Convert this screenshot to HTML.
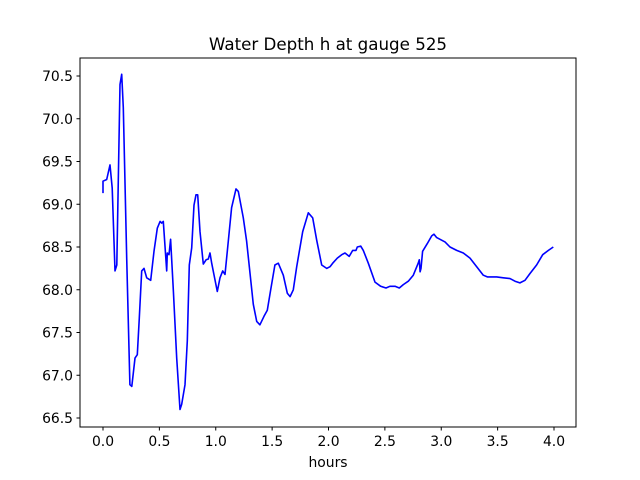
<!DOCTYPE html>
<html><head><meta charset="utf-8"><style>
html,body{margin:0;padding:0;background:#fff;}
svg{display:block;font-family:"DejaVu Sans","Liberation Sans",sans-serif;}
</style></head><body>
<svg id="chart" width="640" height="480" viewBox="0 0 640 480">
<rect width="640" height="480" fill="#fff"/>
<text x="328" y="50" text-anchor="middle" font-size="16.7">Water Depth h at gauge 525</text>
<g id="xticks"></g>
<g id="yticks"></g>
<path id="series" fill="none" stroke="#0000ff" stroke-width="1.6" stroke-linejoin="round"/>
<rect x="80" y="58" width="496" height="369" fill="none" stroke="#000" stroke-width="1"/>
<text x="328" y="467" text-anchor="middle" font-size="13.9">hours</text>
</svg>
<script>
const hours=[0,0,0.033,0.062,0.082,0.106,0.122,0.151,0.166,0.180,0.210,0.239,0.255,0.284,0.304,0.322,0.343,0.364,0.388,0.423,0.452,0.482,0.506,0.521,0.535,0.565,0.570,0.585,0.600,0.624,0.654,0.683,0.698,0.727,0.748,0.765,0.787,0.807,0.825,0.840,0.860,0.890,0.914,0.934,0.949,0.964,0.984,1.014,1.038,1.062,1.082,1.102,1.141,1.180,1.200,1.244,1.274,1.333,1.363,1.392,1.428,1.457,1.487,1.525,1.555,1.599,1.635,1.659,1.688,1.718,1.771,1.821,1.860,1.895,1.940,1.984,2.013,2.037,2.078,2.117,2.146,2.184,2.215,2.244,2.255,2.286,2.309,2.353,2.412,2.463,2.510,2.545,2.590,2.628,2.663,2.708,2.752,2.796,2.805,2.812,2.820,2.835,2.876,2.915,2.936,2.960,3.033,3.078,3.137,3.196,3.255,3.314,3.373,3.408,3.492,3.550,3.610,3.654,3.698,3.743,3.787,3.846,3.900,3.950,3.994];
const depths=[69.13,69.27,69.29,69.46,69.19,68.22,68.29,70.40,70.52,70.13,68.37,66.89,66.87,67.20,67.24,67.67,68.22,68.25,68.14,68.11,68.45,68.72,68.80,68.78,68.80,68.22,68.43,68.41,68.59,67.98,67.20,66.60,66.66,66.89,67.40,68.29,68.49,68.99,69.11,69.11,68.68,68.30,68.35,68.36,68.43,68.31,68.18,67.98,68.14,68.22,68.18,68.45,68.96,69.18,69.15,68.84,68.57,67.83,67.63,67.59,67.69,67.76,68.00,68.29,68.31,68.17,67.96,67.92,68.00,68.27,68.68,68.90,68.84,68.58,68.29,68.25,68.27,68.31,68.37,68.41,68.43,68.39,68.46,68.46,68.50,68.51,68.46,68.31,68.09,68.04,68.02,68.04,68.04,68.02,68.06,68.10,68.17,68.31,68.35,68.21,68.25,68.45,68.54,68.63,68.65,68.61,68.56,68.50,68.46,68.43,68.37,68.27,68.17,68.15,68.15,68.14,68.13,68.10,68.08,68.11,68.19,68.29,68.41,68.46,68.50];
const xTickValues=[0,0.5,1,1.5,2,2.5,3,3.5,4];
const xTickLabels=["0.0","0.5","1.0","1.5","2.0","2.5","3.0","3.5","4.0"];
const yTickValues=[66.5,67,67.5,68,68.5,69,69.5,70,70.5];
const yTickLabels=["66.5","67.0","67.5","68.0","68.5","69.0","69.5","70.0","70.5"];

function xScale(h){return 103+(h-0)*112.75;}
function yScale(v){return 418-(v-66.5)*85.5;}
const NS="http://www.w3.org/2000/svg";
const xg=document.getElementById('xticks'), yg=document.getElementById('yticks');
xTickValues.forEach((t,i)=>{
  const x=xScale(t);
  const l=document.createElementNS(NS,'line');
  
  
  l.setAttribute('x1',x);l.setAttribute('x2',x);l.setAttribute('y1',427);l.setAttribute('y2',430.5);l.setAttribute('stroke','#000');
  xg.appendChild(l);
  const tx=document.createElementNS(NS,'text');
  
  
  tx.setAttribute('x',x);tx.setAttribute('y',446);tx.setAttribute('text-anchor','middle');tx.setAttribute('font-size','13.9');
  tx.textContent=xTickLabels[i];
  xg.appendChild(tx);
});
yTickValues.forEach((t,i)=>{
  const y=yScale(t);
  const l=document.createElementNS(NS,'line');
  
  
  l.setAttribute('x1',76.5);l.setAttribute('x2',80);l.setAttribute('y1',y);l.setAttribute('y2',y);l.setAttribute('stroke','#000');
  yg.appendChild(l);
  const tx=document.createElementNS(NS,'text');
  
  
  tx.setAttribute('x',73);tx.setAttribute('y',y+5);tx.setAttribute('text-anchor','end');tx.setAttribute('font-size','13.9');
  tx.textContent=yTickLabels[i];
  yg.appendChild(tx);
});
let d='';
hours.forEach((h,i)=>{d+=(i?'L':'M')+xScale(h).toFixed(1)+','+yScale(depths[i]).toFixed(1);});
document.getElementById('series').setAttribute('d',d);
</script>
</body></html>
